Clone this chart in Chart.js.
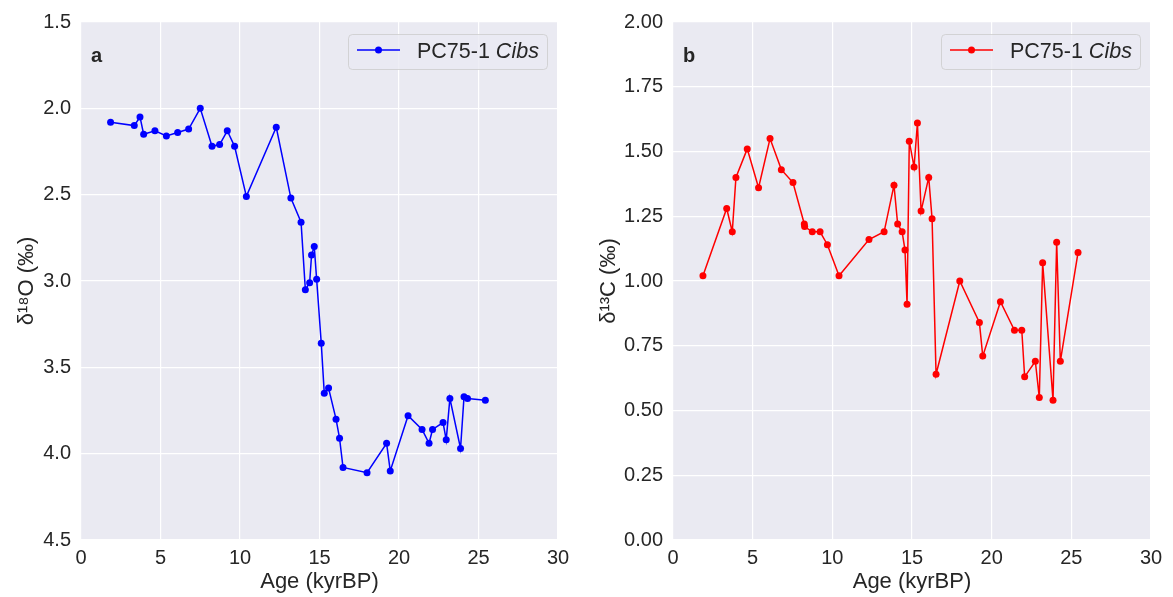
<!DOCTYPE html>
<html>

<head>
  <script src="https://cdn.jsdelivr.net/npm/chart.js"></script>
  <style>
    body { margin: 0; background: #ffffff; }
    #wrap { position: relative; width: 1173px; height: 597px; }
    canvas { position: absolute; top: 0; }
  </style>
</head>

<body>
  <div id="wrap">
    <canvas id="chartO" width="586" height="597" style="left:0px"></canvas>
    <canvas id="chartC" width="587" height="597" style="left:586px"></canvas>
  </div>

  <script>
    // PC75-1 Cibs, d18O (panel a)
    const ageO = [1.86, 3.35, 3.71, 3.94, 4.65, 5.37, 6.08, 6.77, 7.50, 8.24, 8.72, 9.20, 9.66, 10.40, 12.28, 13.20, 13.84, 14.11, 14.38, 14.50, 14.67, 14.82, 15.11, 15.30, 15.57, 16.04, 16.26, 16.48, 17.99, 19.22, 19.45, 20.57, 21.45, 21.89, 22.11, 22.77, 22.97, 23.20, 23.87, 24.09, 24.31, 25.43];
    const d18O = [2.08, 2.10, 2.05, 2.15, 2.13, 2.16, 2.14, 2.12, 2.00, 2.22, 2.21, 2.13, 2.22, 2.51, 2.11, 2.52, 2.66, 3.05, 3.01, 2.85, 2.80, 2.99, 3.36, 3.65, 3.62, 3.80, 3.91, 4.08, 4.11, 3.94, 4.10, 3.78, 3.86, 3.94, 3.86, 3.82, 3.92, 3.68, 3.97, 3.67, 3.68, 3.69];

    // PC75-1 Cibs, d13C (panel b)
    const ageC = [1.88, 3.37, 3.72, 3.95, 4.66, 5.37, 6.09, 6.80, 7.53, 8.24, 8.26, 8.74, 9.23, 9.69, 10.42, 12.30, 13.25, 13.87, 14.10, 14.38, 14.56, 14.69, 14.83, 15.13, 15.34, 15.57, 16.05, 16.26, 16.51, 18.00, 19.23, 19.44, 20.55, 21.43, 21.89, 22.07, 22.74, 22.99, 23.20, 23.85, 24.08, 24.31, 25.42];
    const d13C = [1.02, 1.28, 1.19, 1.40, 1.51, 1.36, 1.55, 1.43, 1.38, 1.22, 1.21, 1.19, 1.19, 1.14, 1.02, 1.16, 1.19, 1.37, 1.22, 1.19, 1.12, 0.91, 1.54, 1.44, 1.61, 1.27, 1.40, 1.24, 0.64, 1.00, 0.84, 0.71, 0.92, 0.81, 0.81, 0.63, 0.69, 0.55, 1.07, 0.54, 1.15, 0.69, 1.11];

    const legendName = "PC75-1 ";
    const legendItalic = "Cibs";
    const xTitle = "Age (kyrBP)";

    const textColor = "#262626";
    const fontFamily = "'Liberation Sans', Arial, 'DejaVu Sans', sans-serif";

    // grey background, panel letter and the legend box
    const panelDeco = {
      id: "panelDeco",
      beforeDraw(chart) {
        const a = chart.chartArea;
        const ctx = chart.ctx;
        ctx.save();
        ctx.fillStyle = "#EAEAF2";
        ctx.fillRect(a.left, a.top, a.right - a.left, a.bottom - a.top);
        ctx.restore();
      },
      afterDraw(chart, args, opts) {
        const a = chart.chartArea;
        const ctx = chart.ctx;
        ctx.save();

        // panel letter
        ctx.fillStyle = textColor;
        ctx.font = "bold 20px " + fontFamily;
        ctx.textBaseline = "alphabetic";
        ctx.fillText(opts.letter, a.left + 10, a.top + 40);

        // legend
        const bw = 199, bh = 35;
        const bx = a.right - 11 - bw, by = a.top + 12;
        ctx.beginPath();
        ctx.roundRect(bx + 0.5, by + 0.5, bw, bh, 4);
        ctx.fillStyle = "rgba(234,234,242,0.8)";
        ctx.fill();
        ctx.strokeStyle = "rgba(204,204,204,0.8)";
        ctx.lineWidth = 1;
        ctx.stroke();

        const ly = by + 16;
        ctx.beginPath();
        ctx.moveTo(bx + 9, ly);
        ctx.lineTo(bx + 52, ly);
        ctx.strokeStyle = opts.color;
        ctx.lineWidth = 1.5;
        ctx.stroke();
        ctx.beginPath();
        ctx.arc(bx + 30.5, ly, 3.5, 0, Math.PI * 2);
        ctx.fillStyle = opts.color;
        ctx.fill();

        ctx.fillStyle = textColor;
        ctx.font = "21.5px " + fontFamily;
        ctx.fillText(legendName, bx + 69, by + 23.5);
        const w = ctx.measureText(legendName).width;
        ctx.font = "italic 21.5px " + fontFamily;
        ctx.fillText(legendItalic, bx + 69 + w, by + 23.5);
        ctx.restore();
      }
    };

    function drawChart(id, xs, ys, color, yOpts, letter, yAxisWidth, padRight, titlePad) {
      const points = xs.map((x, i) => ({ x: x, y: ys[i] }));
      const ctx = document.getElementById(id).getContext("2d");

      return new Chart(ctx, {
        type: "line",
        data: {
          datasets: [{
            label: legendName + legendItalic,
            data: points,
            borderColor: color,
            backgroundColor: color,
            borderWidth: 1.5,
            pointRadius: 3.5,
            pointBorderWidth: 0,
            pointHoverRadius: 3.5,
            fill: false,
            tension: 0
          }]
        },
        plugins: [panelDeco],
        options: {
          responsive: false,
          animation: false,
          events: [],
          layout: { padding: { left: 0, right: padRight, top: 18, bottom: 0 } },
          scales: {
            x: {
              type: "linear",
              min: 0,
              max: 30,
              afterFit: s => { s.height = 57; },
              border: { display: false },
              grid: { color: "#ffffff", lineWidth: 1.2, drawTicks: false },
              ticks: {
                stepSize: 5,
                padding: 6,
                color: textColor,
                font: { family: fontFamily, size: 20 },
                callback: v => v.toString()
              },
              title: {
                display: true,
                text: xTitle,
                color: textColor,
                font: { family: fontFamily, size: 22 },
                padding: { top: 0, bottom: 2 }
              }
            },
            y: {
              min: yOpts.min,
              max: yOpts.max,
              reverse: yOpts.reverse,
              afterFit: s => { s.width = yAxisWidth; },
              border: { display: false },
              grid: { color: "#ffffff", lineWidth: 1.2, drawTicks: false },
              ticks: {
                stepSize: yOpts.step,
                padding: 10,
                color: textColor,
                font: { family: fontFamily, size: 20 },
                callback: v => v.toFixed(yOpts.digits)
              },
              title: {
                display: true,
                text: yOpts.title,
                color: textColor,
                font: { family: fontFamily, size: 22 },
                padding: { top: titlePad, bottom: 0 }
              }
            }
          },
          plugins: {
            legend: { display: false },
            tooltip: { enabled: false },
            panelDeco: { letter: letter, color: color }
          }
        }
      });
    }

    drawChart("chartO", ageO, d18O, "#0000FF",
      { min: 1.5, max: 4.5, step: 0.5, digits: 1, reverse: true, title: "δ¹⁸O (‰)" },
      "a", 81, 28, 14);

    drawChart("chartC", ageC, d13C, "#FF0000",
      { min: 0, max: 2, step: 0.25, digits: 2, reverse: false, title: "δ¹³C (‰)" },
      "b", 87, 22, 10);
  </script>
</body>

</html>
